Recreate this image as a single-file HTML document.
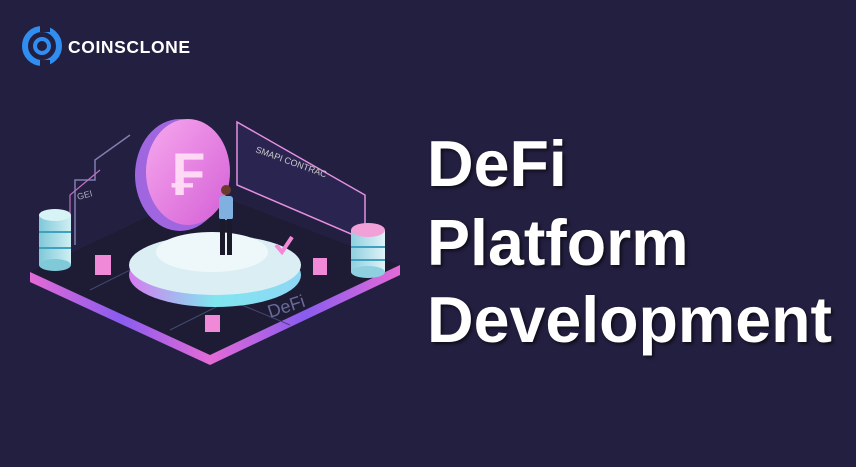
<!DOCTYPE html>
<html><head><meta charset="utf-8"><style>
html,body{margin:0;padding:0}
body{width:856px;height:467px;background:#231f40;position:relative;overflow:hidden;font-family:"Liberation Sans",sans-serif}
.t{position:absolute;left:427px;color:#fff;font-weight:bold;font-size:64.5px;line-height:1;text-shadow:2px 2px 3px rgba(0,0,0,.6)}
</style></head><body>
<svg width="856" height="467" style="position:absolute;left:0;top:0">
<defs>
<linearGradient id="edge" x1="0" x2="1"><stop offset="0" stop-color="#e46ad6"/><stop offset="0.5" stop-color="#8a5cf0"/><stop offset="1" stop-color="#e46ad6"/></linearGradient>
<linearGradient id="coin" x1="0" y1="0" x2="1" y2="1"><stop offset="0" stop-color="#f7a8ee"/><stop offset="1" stop-color="#d45fd6"/></linearGradient>
<linearGradient id="disc" x1="0" x2="1"><stop offset="0" stop-color="#d67cf0"/><stop offset="0.5" stop-color="#7fe6f0"/><stop offset="1" stop-color="#8fd7f5"/></linearGradient>
<linearGradient id="cylL" x1="0" x2="1"><stop offset="0" stop-color="#7fc9d9"/><stop offset="1" stop-color="#cfeff3"/></linearGradient>
<linearGradient id="cylR" x1="0" x2="1"><stop offset="0" stop-color="#8fd0e0"/><stop offset="1" stop-color="#dff3f6"/></linearGradient>
</defs>
<!-- logo -->
<circle cx="42" cy="46" r="17" fill="none" stroke="#2f8ef0" stroke-width="6"/>
<circle cx="42" cy="46" r="7" fill="none" stroke="#2f8ef0" stroke-width="4"/>
<rect x="40" y="24" width="10" height="8" fill="#231f40"/>
<rect x="40" y="60" width="10" height="8" fill="#231f40"/>
<text x="68" y="53" fill="#fff" font-size="17.5" font-weight="bold" letter-spacing="0.6" font-family="Liberation Sans, sans-serif">COINSCLONE</text>
<!-- panels -->
<polyline points="75,245 75,180 95,180 95,160 130,135" fill="none" stroke="#7f7fb0" stroke-width="1.5"/>
<polyline points="70,240 70,195 100,170" fill="none" stroke="#c070c0" stroke-width="1.2"/>
<text x="78" y="200" fill="#aab" font-size="9" transform="rotate(-15 78 200)">GEI</text>
<polygon points="237,122 365,195 365,240 237,185" fill="#2a2450" stroke="#e690e0" stroke-width="1.5"/>
<text x="255" y="152" fill="#ccc" font-size="9" transform="rotate(20 255 152)">SMAPI CONTRAC</text>
<!-- platform -->
<polygon points="30,272 205,190 400,265 210,355" fill="#1e1c34"/>
<polygon points="30,272 210,355 210,365 30,282" fill="url(#edge)"/>
<polygon points="210,355 400,265 400,275 210,365" fill="url(#edge)"/>
<polyline points="90,290 150,260 200,290" fill="none" stroke="#444a70"/>
<polyline points="170,330 230,300 290,325" fill="none" stroke="#444a70"/>
<text x="270" y="318" fill="#6a6a9a" font-size="18" transform="rotate(-18 270 318)">DeFi</text>
<!-- cubes -->
<rect x="95" y="255" width="16" height="20" fill="#f08ad8"/>
<rect x="313" y="258" width="14" height="17" fill="#f08ad8"/>
<rect x="205" y="315" width="15" height="17" fill="#f08ad8"/>
<!-- cylinders -->
<rect x="39" y="215" width="32" height="50" fill="url(#cylL)"/>
<ellipse cx="55" cy="265" rx="16" ry="6" fill="#7fc9d9"/>
<ellipse cx="55" cy="215" rx="16" ry="6" fill="#d8f3f6"/>
<line x1="39" y1="232" x2="71" y2="232" stroke="#3fa0c0" stroke-width="2"/>
<line x1="39" y1="248" x2="71" y2="248" stroke="#3fa0c0" stroke-width="2"/>
<rect x="351" y="230" width="34" height="42" fill="url(#cylR)"/>
<ellipse cx="368" cy="272" rx="17" ry="6" fill="#8fd0e0"/>
<ellipse cx="368" cy="230" rx="17" ry="7" fill="#f2a0d8"/>
<line x1="351" y1="247" x2="385" y2="247" stroke="#3fa0c0" stroke-width="2"/>
<line x1="351" y1="260" x2="385" y2="260" stroke="#3fa0c0" stroke-width="2"/>
<!-- disc -->
<ellipse cx="215" cy="275" rx="86" ry="32" fill="url(#disc)"/>
<ellipse cx="215" cy="265" rx="86" ry="30" fill="#dbeef4"/>
<ellipse cx="212" cy="252" rx="56" ry="20" fill="#eef8fb"/>
<!-- coin -->
<ellipse cx="180" cy="175" rx="45" ry="56" fill="#a066e0"/>
<ellipse cx="188" cy="172" rx="42" ry="53" fill="url(#coin)"/>
<text x="188" y="195" fill="#ffd8f5" font-size="60" font-weight="bold" text-anchor="middle">₣</text>
<!-- person -->
<circle cx="226" cy="190" r="5" fill="#6a3a2a"/>
<rect x="219" y="196" width="14" height="24" rx="3" fill="#7fb0e0"/>
<rect x="220" y="219" width="5" height="36" fill="#1a1a2a"/>
<rect x="227" y="219" width="5" height="36" fill="#1a1a2a"/>
<polyline points="276,245 282,252 292,237" fill="none" stroke="#f08ad8" stroke-width="4"/>
</svg>
<div class="t" style="top:132px">DeFi</div>
<div class="t" style="top:211px">Platform</div>
<div class="t" style="top:288px">Development</div>
</body></html>
